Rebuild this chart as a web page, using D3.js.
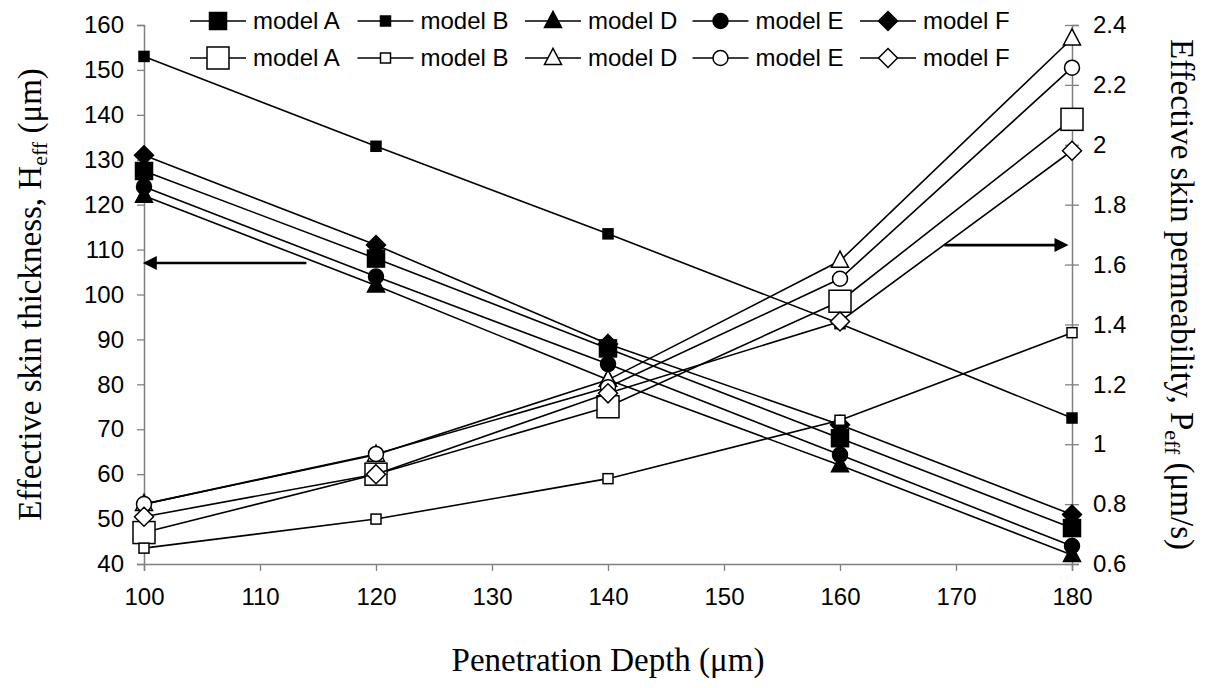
<!DOCTYPE html>
<html><head><meta charset="utf-8">
<script src="https://d3js.org/d3.v7.min.js"></script>
<style>body{margin:0;background:#fff}</style>
</head><body>
<svg id="c" width="1208" height="688"></svg>
<script>
const depth = [100,120,140,160,180];
const xTicks = [100,110,120,130,140,150,160,170,180];
const leftTicks = [40,50,60,70,80,90,100,110,120,130,140,150,160];
const rightTicks = [0.6,0.8,1,1.2,1.4,1.6,1.8,2,2.2,2.4];
const rightTickLabels = ["0.6","0.8","1","1.2","1.4","1.6","1.8","2","2.2","2.4"];
const modelNames = ["model A","model B","model D","model E","model F"];
const markerShapes = ["bigSquare","smallSquare","triangle","circle","diamond"];
// Effective skin thickness (left axis, filled markers)
const thickA = [127.5,108,88,68,48];
const thickB = [153,133,113.5,93.5,72.5];
const thickD = [122,102,81,62,42];
const thickE = [124,104,84.5,64.3,44];
const thickF = [131,111,89,71,51];
// Effective skin permeability (right axis, open markers)
const permA = [0.705,0.90,1.125,1.4775,2.085];
const permB = [0.653,0.75,0.885,1.08,1.3725];
const permD = [0.80,0.965,1.215,1.6125,2.355];
const permE = [0.80,0.9675,1.19,1.5525,2.2575];
const permF = [0.758,0.90,1.17,1.41,1.98];
// annotation arrows
const leftArrow = {x0:114, x1:99.9, yL:107};
const rightArrow = {x0:169, x1:179.7, yR:1.665};

const thick = [thickA,thickB,thickD,thickE,thickF];
const perm = [permA,permB,permD,permE,permF];

const svg = d3.select("#c");
const L=144, R=1072, T=25, B=564;
const x = d3.scaleLinear().domain([100,180]).range([L,R]);
const yL = d3.scaleLinear().domain([40,160]).range([B,T]);
const yR = d3.scaleLinear().domain([0.6,2.4]).range([B,T]);
const axisColor = "#808080";
const sans = "Arial, 'Liberation Sans', sans-serif";
const serif = "'Times New Roman','Liberation Serif',serif";

// axes
const gx = svg.append("g").attr("transform",`translate(0,${B})`)
  .call(d3.axisBottom(x).tickValues(xTicks).tickSize(7).tickPadding(17).tickFormat(d3.format("d")));
const gl = svg.append("g").attr("transform",`translate(${L},0)`)
  .call(d3.axisLeft(yL).tickValues(leftTicks).tickSize(7).tickPadding(13).tickFormat(d3.format("d")));
const gr = svg.append("g").attr("transform",`translate(${R},0)`)
  .call(d3.axisRight(yR).tickValues(rightTicks).tickSize(7).tickPadding(14).tickFormat((d,i)=>rightTickLabels[i]));
gr.selectAll(".tick line").attr("x1",-7);
[gx,gl,gr].forEach(g=>{
  g.select(".domain").attr("stroke",axisColor).attr("stroke-width",1.5);
  g.selectAll(".tick line").attr("stroke",axisColor).attr("stroke-width",1.3);
  g.selectAll(".tick text").attr("fill","#000").style("font-family",sans).style("font-size","24px");
});

function marker(g, shape, cx, cy, filled){
  const fill = filled ? "#000" : "#fff";
  const sw = 1.5;
  let s;
  if(shape==="bigSquare"){ s = filled?17:22; g.append("rect").attr("x",cx-s/2).attr("y",cy-s/2).attr("width",s).attr("height",s).attr("fill",fill).attr("stroke","#000").attr("stroke-width",sw); }
  else if(shape==="smallSquare"){ s = 10; g.append("rect").attr("x",cx-s/2).attr("y",cy-s/2).attr("width",s).attr("height",s).attr("fill",fill).attr("stroke","#000").attr("stroke-width",sw); }
  else if(shape==="triangle"){ s = 17; const h=s*0.95; g.append("path").attr("d",`M${cx},${cy-h*0.6}L${cx+s/2},${cy+h*0.4}L${cx-s/2},${cy+h*0.4}Z`).attr("fill",fill).attr("stroke","#000").attr("stroke-width",sw); }
  else if(shape==="circle"){ s = 7.5; g.append("circle").attr("cx",cx).attr("cy",cy).attr("r",s).attr("fill",fill).attr("stroke","#000").attr("stroke-width",sw); }
  else if(shape==="diamond"){ s = 9.5; g.append("path").attr("d",`M${cx},${cy-s}L${cx+s},${cy}L${cx},${cy+s}L${cx-s},${cy}Z`).attr("fill",fill).attr("stroke","#000").attr("stroke-width",sw); }
}

const plot = svg.append("g");
function drawSeries(vals, ys, shape, filled){
  const g = plot.append("g");
  const line = d3.line().x((d,i)=>x(depth[i])).y(d=>ys(d));
  g.append("path").attr("d",line(vals)).attr("fill","none").attr("stroke","#000").attr("stroke-width",1.6);
  vals.forEach((v,i)=>marker(g, shape, x(depth[i]), ys(v), filled));
}
thick.forEach((v,i)=>drawSeries(v, yL, markerShapes[i], true));
perm.forEach((v,i)=>drawSeries(v, yR, markerShapes[i], false));

// arrows
function arrow(x0,x1,yy){
  const dir = Math.sign(x1-x0);
  svg.append("line").attr("x1",x0).attr("x2",x1-dir*12).attr("y1",yy).attr("y2",yy).attr("stroke","#000").attr("stroke-width",2.6);
  svg.append("path").attr("d",`M${x1},${yy}L${x1-dir*14},${yy-7}L${x1-dir*14},${yy+7}Z`).attr("fill","#000");
}
arrow(x(leftArrow.x0), x(leftArrow.x1), yL(leftArrow.yL));
arrow(x(rightArrow.x0), x(rightArrow.x1), yR(rightArrow.yR));

// legend
const legX0 = 218, legStep = 167.5, legRows=[21,58];
[true,false].forEach((filled,r)=>{
  modelNames.forEach((nm,i)=>{
    const mx = legX0 + i*legStep, ly = legRows[r];
    const g = svg.append("g");
    g.append("line").attr("x1",mx-28).attr("x2",mx+28).attr("y1",ly).attr("y2",ly).attr("stroke","#000").attr("stroke-width",1.6);
    marker(g, markerShapes[i], mx, ly, filled);
    g.append("text").attr("x",mx+35).attr("y",ly).attr("dy","0.35em").text(nm)
      .style("font-family",sans).style("font-size","24px");
  });
});

// titles
svg.append("text").attr("x",(L+R)/2).attr("y",671).attr("text-anchor","middle")
  .style("font-family",serif).style("font-size","33px").text("Penetration Depth (μm)");
const lt = svg.append("text").attr("transform",`translate(41,${(T+B)/2}) rotate(-90)`).attr("text-anchor","middle")
  .style("font-family",serif).style("font-size","33px");
lt.append("tspan").text("Effective skin thickness, H");
lt.append("tspan").attr("dy",6).style("font-size","22px").text("eff");
lt.append("tspan").attr("dy",-6).text(" (μm)");
const rt = svg.append("text").attr("transform",`translate(1171,${(T+B)/2}) rotate(90)`).attr("text-anchor","middle")
  .style("font-family",serif).style("font-size","33px");
rt.append("tspan").text("Effective skin permeability, P");
rt.append("tspan").attr("dy",6).style("font-size","22px").text("eff");
rt.append("tspan").attr("dy",-6).text(" (μm/s)");
</script>
</body></html>
